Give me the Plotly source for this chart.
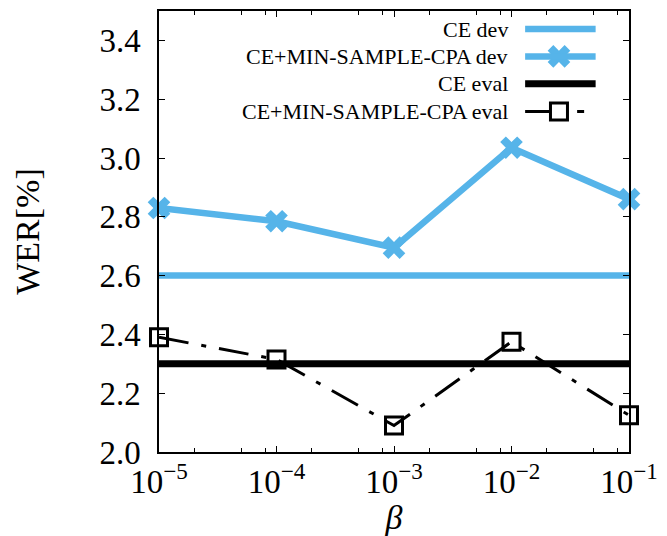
import plotly.graph_objects as go

beta = [1e-5, 1e-4, 1e-3, 1e-2, 1e-1]
ce_dev = [2.6, 2.6, 2.6, 2.6, 2.6]
cpa_dev = [2.83, 2.785, 2.695, 3.035, 2.86]
ce_eval = [2.3, 2.3, 2.3, 2.3, 2.3]
cpa_eval = [2.39, 2.315, 2.09, 2.375, 2.125]

names = ["CE dev", "CE+MIN-SAMPLE-CPA dev", "CE eval", "CE+MIN-SAMPLE-CPA eval"]
tick_vals = [1e-5, 1e-4, 1e-3, 1e-2, 1e-1]
tick_text = ["10<sup>\u22125</sup>", "10<sup>\u22124</sup>", "10<sup>\u22123</sup>",
             "10<sup>\u22122</sup>", "10<sup>\u22121</sup>"]
minor_vals = [m * d for d in [1e-5, 1e-4, 1e-3, 1e-2] for m in (2, 5, 8)]

BLUE = "#56B4E9"
FONT = "Liberation Serif"
DASH = "30px,13px,5px,13px"

fig = go.Figure()
fig.add_trace(go.Scatter(x=beta, y=ce_dev, mode="lines", name=names[0],
                         line=dict(color=BLUE, width=6.5), cliponaxis=False))
fig.add_trace(go.Scatter(x=beta, y=cpa_dev, mode="lines+markers", name=names[1],
                         line=dict(color=BLUE, width=6.5),
                         marker=dict(symbol="x", size=20, color=BLUE, line=dict(width=0)),
                         cliponaxis=False))
fig.add_trace(go.Scatter(x=beta, y=ce_eval, mode="lines", name=names[2],
                         line=dict(color="black", width=7), cliponaxis=False))
fig.add_trace(go.Scatter(x=beta, y=cpa_eval, mode="lines+markers", name=names[3],
                         line=dict(color="black", width=3, dash=DASH),
                         marker=dict(symbol="square-open", size=17, color="black",
                                     line=dict(width=3, color="black")),
                         cliponaxis=False))

# custom legend (text left of sample)
rows = [0.959, 0.897, 0.835, 0.772]
x0, x1, xm = 0.779, 0.929, 0.851
styles = [
    dict(color=BLUE, width=6.5, dash="solid"),
    dict(color=BLUE, width=6.5, dash="solid"),
    dict(color="black", width=7, dash="solid"),
    dict(color="black", width=3, dash="24px,28px,7px,60px"),
]
for name, yy, st in zip(names, rows, styles):
    fig.add_annotation(x=0.747, y=yy, xref="paper", yref="paper", text=name,
                       showarrow=False, xanchor="right", yanchor="middle",
                       font=dict(family=FONT, size=22, color="black"))
    fig.add_shape(type="line", xref="paper", yref="paper", x0=x0, x1=x1, y0=yy, y1=yy,
                  line=dict(color=st["color"], width=st["width"], dash=st["dash"]))
fig.add_trace(go.Scatter(x=[xm], y=[rows[1]], xaxis="x2", yaxis="y2", mode="markers",
                         marker=dict(symbol="x", size=20, color=BLUE, line=dict(width=0)),
                         showlegend=False, hoverinfo="skip", cliponaxis=False))
fig.add_trace(go.Scatter(x=[xm], y=[rows[3]], xaxis="x2", yaxis="y2", mode="markers",
                         marker=dict(symbol="square-open", size=17, color="black",
                                     line=dict(width=3, color="black")),
                         showlegend=False, hoverinfo="skip", cliponaxis=False))

axis_common = dict(showline=True, linecolor="black", linewidth=1.5, mirror="ticks",
                   ticks="inside", ticklen=6, tickcolor="black", tickwidth=1,
                   showgrid=False, zeroline=False,
                   tickfont=dict(family=FONT, size=33, color="black"))

fig.update_layout(
    width=667, height=536, margin=dict(l=159, r=32, t=9, b=84),
    paper_bgcolor="white", plot_bgcolor="white", showlegend=False,
    xaxis=dict(type="log", range=[-5, -1 + 1e-6], tickmode="array", tickvals=tick_vals,
               ticktext=tick_text,
               minor=dict(tickmode="array", tickvals=minor_vals, ticks="inside",
                          ticklen=4, tickcolor="black", tickwidth=1),
               title=dict(text="<i>\u03b2</i>", font=dict(family=FONT, size=34, color="black"),
                          standoff=0),
               **axis_common),
    yaxis=dict(range=[2.0, 3.5], tick0=2.0, dtick=0.2, tickformat=".1f",
               ticklabelstandoff=10,
               title=dict(text="WER[%]", font=dict(family=FONT, size=34, color="black"),
                          standoff=50),
               **axis_common),
    xaxis2=dict(overlaying="x", range=[0, 1], visible=False, fixedrange=True),
    yaxis2=dict(overlaying="y", range=[0, 1], visible=False, fixedrange=True),
)

fig.write_html("out.html")
